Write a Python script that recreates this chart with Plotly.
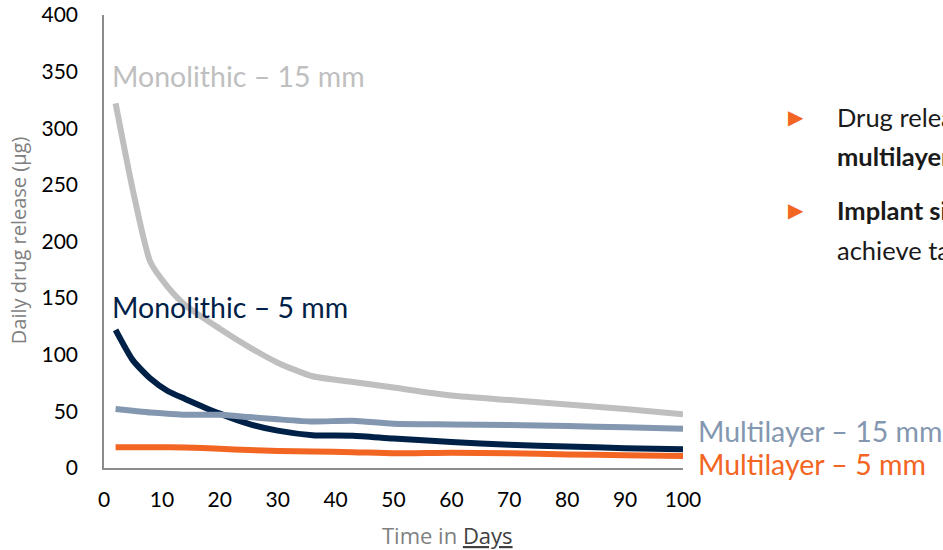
import plotly.graph_objects as go

days = [2, 5, 8, 11, 14, 20, 25, 30, 36, 43, 50, 60, 70, 80, 90, 100]
mono_15 = [322, 245, 182, 160, 144, 123, 107, 93, 81, 76, 71, 64, 60, 56, 52, 47.5]
mono_5 = [122, 95, 79, 68, 61, 48, 39, 33, 29, 28.5, 26, 23, 20.5, 19, 17.5, 16.5]
multi_15 = [52, 50.5, 49, 48, 47, 47, 45, 43, 41, 41.8, 39, 38.5, 38, 37, 36, 34.7]
multi_5 = [18.3, 18.3, 18.3, 18.3, 18.2, 17, 15.8, 15, 14.5, 14, 13, 13.5, 13, 12, 11.3, 10.6]

series_names = ["Monolithic – 15 mm", "Monolithic – 5 mm", "Multilayer – 15 mm", "Multilayer – 5 mm"]
series_vals = [mono_15, mono_5, multi_15, multi_5]
colors = ["#BFBFBF", "#002147", "#8497B0", "#F26522"]

x_ticks = [0, 10, 20, 30, 40, 50, 60, 70, 80, 90, 100]
y_ticks = [0, 50, 100, 150, 200, 250, 300, 350, 400]

fig = go.Figure()
for name, vals, c in zip(series_names, series_vals, colors):
    fig.add_trace(go.Scatter(x=days, y=vals, mode="lines", name=name,
                             line=dict(color=c, width=6, shape="spline", smoothing=0.6)))

FONT = "Lato"
labels = [
    ("Monolithic – 15 mm", 0.0104, 0.865, "#BFBFBF"),
    ("Monolithic – 5 mm", 0.0104, 0.355, "#002147"),
    ("Multilayer – 15 mm", 1.0225, 0.0817, "#8497B0"),
    ("Multilayer – 5 mm", 1.0225, 0.0088, "#F26522"),
]
anns = []
for t, x, y, c in labels:
    anns.append(dict(text=t, x=x, y=y, xref="paper", yref="paper", xanchor="left",
                     yanchor="middle", showarrow=False, font=dict(family=FONT, size=28.5, color=c)))

bullets = [
    ("▶", 1.178, 0.777, "#F26522", 20),
    ("Drug release", 1.262, 0.775, "#1a1a1a", 25.5),
    ("<b>multilayer</b>", 1.262, 0.689, "#1a1a1a", 25.5),
    ("▶", 1.178, 0.5715, "#F26522", 20),
    ("<b>Implant size</b>", 1.262, 0.5695, "#1a1a1a", 25.5),
    ("achieve target", 1.262, 0.481, "#1a1a1a", 25.5),
]
for t, x, y, c, s in bullets:
    anns.append(dict(text=t, x=x, y=y, xref="paper", yref="paper", xanchor="left",
                     yanchor="middle", showarrow=False, font=dict(family=FONT, size=s, color=c)))

# axis titles
anns.append(dict(text="Daily drug release (µg)", x=-0.1485, y=0.503, xref="paper", yref="paper",
                 xanchor="center", yanchor="middle", textangle=-90, showarrow=False,
                 font=dict(family="Open Sans", size=20, color="#808080")))
anns.append(dict(text='Time in <span style="text-decoration:underline;fill:#404040">Days</span>',
                 x=0.594, y=-0.148, xref="paper", yref="paper", xanchor="center", yanchor="middle",
                 showarrow=False, font=dict(family="Open Sans", size=22, color="#808080")))

fig.update_layout(
    width=943, height=550,
    margin=dict(l=104, r=260, t=15, b=82),
    paper_bgcolor="white", plot_bgcolor="white",
    showlegend=False,
    annotations=anns,
    font=dict(family=FONT, size=20, color="#000000"),
    xaxis=dict(range=[0, 100], tickvals=x_ticks, showgrid=False, zeroline=False,
               showline=True, linecolor="#8c8c8c", linewidth=1.5, ticks="", automargin=False,
               tickfont=dict(family=FONT, size=21, color="#000000"), ticklabeloverflow="allow",
               ticklabelstandoff=12),
    yaxis=dict(range=[0, 400], tickvals=y_ticks, showgrid=False, zeroline=False,
               showline=True, linecolor="#8c8c8c", linewidth=1.5, ticks="", automargin=False,
               tickfont=dict(family=FONT, size=21, color="#000000"), ticklabeloverflow="allow",
               ticklabelstandoff=20),
)

fig.write_html("out.html", config={"displayModeBar": False},
               post_script="document.body.style.margin='0';document.body.style.overflow='hidden';")
